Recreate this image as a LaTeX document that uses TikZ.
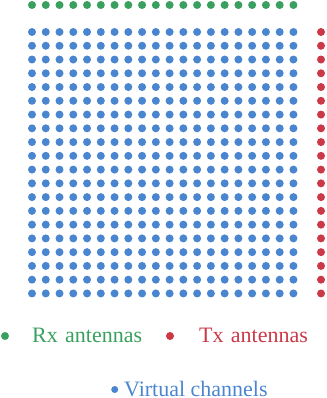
\documentclass[tikz,border=0pt]{standalone}
\usepackage{fontspec}
\setmainfont{Liberation Serif}
\definecolor{rxg}{RGB}{58,160,95}
\definecolor{vblue}{RGB}{74,134,207}
\definecolor{txr}{RGB}{203,57,72}
\begin{document}
\begin{tikzpicture}[x=1pt,y=-1pt,
  dotg/.style={circle,fill=rxg,inner sep=0pt,minimum size=8pt},
  dotb/.style={circle,fill=vblue,inner sep=0pt,minimum size=8pt},
  dotr/.style={circle,fill=txr,inner sep=0pt,minimum size=8pt},
  lbl/.style={anchor=base west,inner sep=0pt,font=\fontsize{22}{24}\selectfont}]
\useasboundingbox (0,0) rectangle (326,398);
\foreach \i in {0,...,19}{
  \node[dotg] (rx\i) at ({32+\i*13.76},5) {};
  \node[dotr] (tx\i) at (321,{32+\i*13.76}) {};
  \foreach \j in {0,...,19}{
    \node[dotb] (v\i-\j) at ({32+\i*13.76},{32+\j*13.76}) {};
  }
}
\node[dotg] (lg) at (5,336) {};
\node[lbl,text=rxg] (lrx) at (32,342.5) {Rx\hspace{1.8pt} antennas};
\node[dotr] (lr) at (170,336) {};
\node[lbl,text=txr] (ltx) at (199,342.5) {Tx\hspace{1.8pt} antennas};
\node[dotb,minimum size=7pt] (lb) at (114.7,389.5) {};
\node[lbl,text=vblue] (lv) at (124,396) {Virtual channels};
\end{tikzpicture}
\end{document}
